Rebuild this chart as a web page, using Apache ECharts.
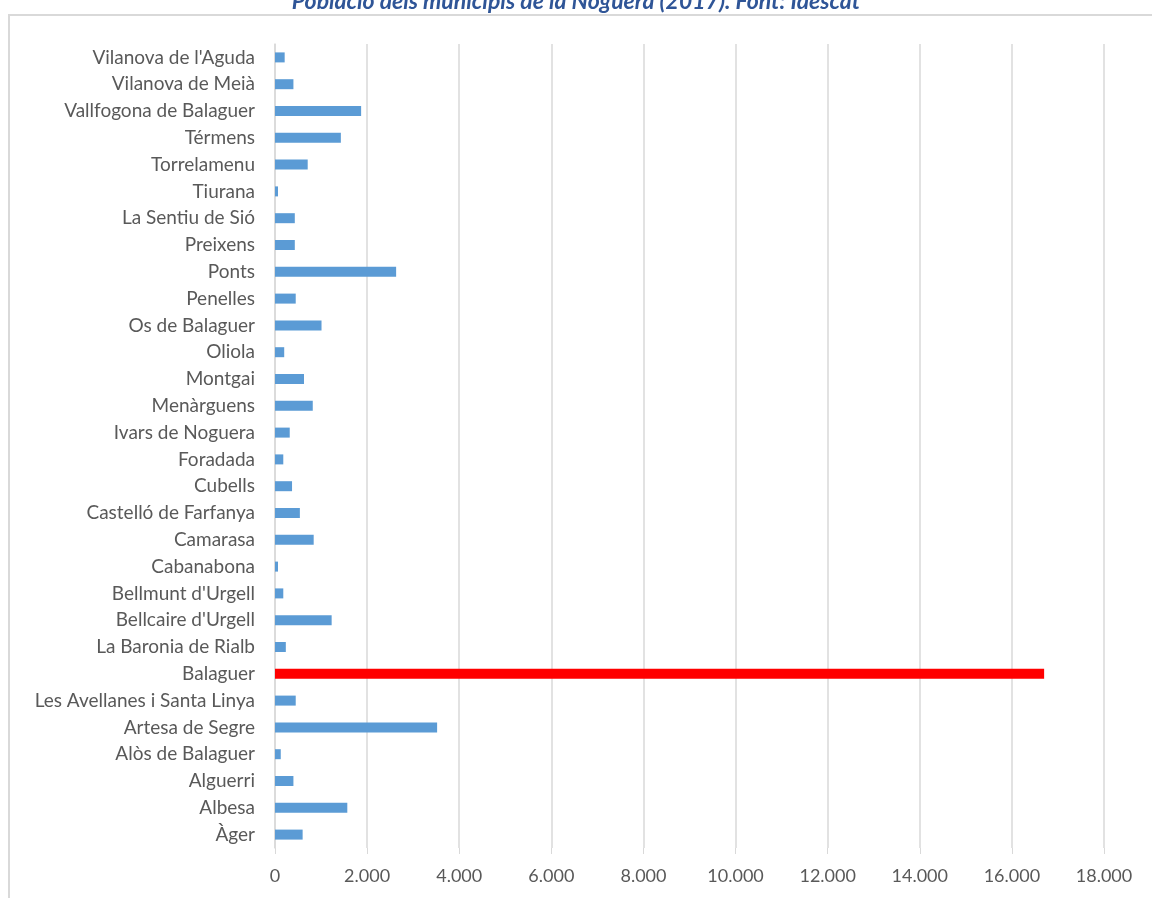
<!DOCTYPE html>
<html>
<head>
<meta charset="utf-8">
<script src="https://cdn.jsdelivr.net/npm/echarts@6/dist/echarts.min.js"></script>
<style>
  html, body { margin: 0; padding: 0; background: #fff; }
  #chart { width: 1152px; height: 898px; }
</style>
</head>
<body>
<div id="chart"></div>
<script>
// municipis, de baix a dalt (ordre de l'eix)
const municipis = [
  'Àger', 'Albesa', 'Alguerri', 'Alòs de Balaguer', 'Artesa de Segre',
  'Les Avellanes i Santa Linya', 'Balaguer', 'La Baronia de Rialb',
  "Bellcaire d'Urgell", "Bellmunt d'Urgell", 'Cabanabona', 'Camarasa',
  'Castelló de Farfanya', 'Cubells', 'Foradada', 'Ivars de Noguera',
  'Menàrguens', 'Montgai', 'Oliola', 'Os de Balaguer', 'Penelles', 'Ponts',
  'Preixens', 'La Sentiu de Sió', 'Tiurana', 'Torrelamenu', 'Térmens',
  'Vallfogona de Balaguer', 'Vilanova de Meià', "Vilanova de l'Aguda"
];
const poblacio = [
  600, 1570, 400, 125, 3520,
  450, 16700, 235,
  1230, 180, 65, 840,
  540, 370, 180, 320,
  820, 630, 200, 1010, 450, 2630,
  430, 430, 65, 710, 1430,
  1870, 400, 210
];
const destacat = 'Balaguer';

const chart = echarts.init(document.getElementById('chart'));
const font = 'Lato, "Open Sans", sans-serif';

const option = {
  animation: false,
  title: {
    text: 'Població dels municipis de la Noguera (2017). Font: Idescat',
    left: 'center',
    top: -15,
    textStyle: {
      color: '#2f5597',
      fontStyle: 'italic',
      fontWeight: 'bold',
      fontSize: 23,
      fontFamily: font
    }
  },
  graphic: [{
    type: 'rect',
    shape: { x: 9, y: 15, width: 1200, height: 950 },
    style: { fill: 'none', stroke: '#d9d9d9', lineWidth: 2 },
    silent: true
  }],
  grid: { left: 275, right: 48, top: 44, bottom: 50 },
  xAxis: {
    type: 'value',
    min: 0,
    max: 18000,
    interval: 2000,
    axisLine: { show: false },
    axisTick: { show: true, length: 6, lineStyle: { color: '#d9d9d9' } },
    splitLine: { lineStyle: { color: '#d9d9d9', width: 1.5 } },
    axisLabel: {
      color: '#595959',
      fontSize: 18,
      fontFamily: font,
      margin: 19,
      formatter: v => v.toString().replace(/\B(?=(\d{3})+(?!\d))/g, '.')
    }
  },
  yAxis: {
    type: 'category',
    data: municipis,
    axisLine: { lineStyle: { color: '#d9d9d9', width: 1.5 } },
    axisTick: { length: 7, lineStyle: { color: '#d9d9d9' } },
    axisLabel: {
      color: '#595959',
      fontSize: 19,
      fontFamily: font,
      margin: 20
    }
  },
  series: [{
    type: 'bar',
    barWidth: 10,
    data: poblacio.map((v, i) => ({
      value: v,
      itemStyle: { color: municipis[i] === destacat ? '#ff0000' : '#5b9bd5' }
    }))
  }]
};

chart.setOption(option);
</script>
</body>
</html>
